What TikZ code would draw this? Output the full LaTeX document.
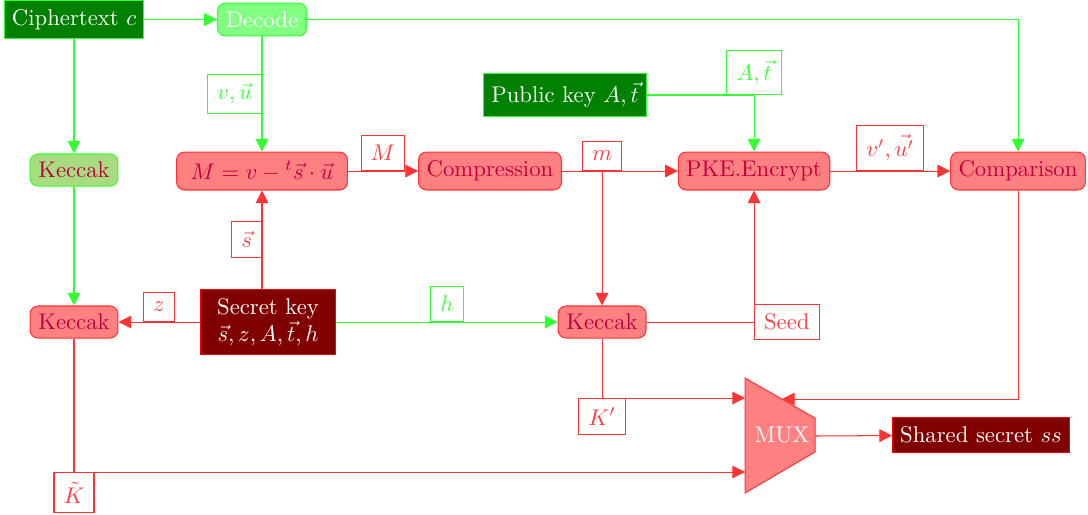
\documentclass[tikz,border=0pt]{standalone}
\usepackage{amssymb, mathtools}
\usepackage{times}
\usepackage{tikz}
\usetikzlibrary{arrows.meta}
\definecolor{keccakgreen}{RGB}{168,220,128}

\begin{document}
\begin{tikzpicture}[
    x=0.44pt,y=-0.44pt,
    blk/.style={draw=red!80,fill=red!50,text=purple,rounded corners=3.5pt,inner xsep=3.5pt,minimum height=16.7pt,line width=0.45pt},
    kec/.style={blk,minimum height=14.1pt,minimum width=38.7pt},
    gblk/.style={draw=green!80,fill=green!50!black,text=white,line width=0.45pt},
    rblk/.style={draw=red,fill=red!50!black,text=white,line width=0.45pt},
    lbl/.style={draw=red!80,fill=white,text=red!75,line width=0.45pt,inner sep=4.2pt},
    glbl/.style={draw=green!80,fill=white,text=green!75,line width=0.45pt,inner sep=4.2pt},
    rarr/.style={red!80,line width=0.45pt,-{Triangle[length=5.6pt,width=5.6pt]}},
    garr/.style={green!80,line width=0.45pt,-{Triangle[length=5.6pt,width=5.6pt]}}
    ]
    \useasboundingbox (0, 0) rectangle (1088, 514);
    \node[gblk,minimum width=59pt,minimum height=16.3pt] (cipher) at (74, 19.5) {Ciphertext $c$};
    \node[blk,draw=green!80,fill=green!50,text=white,minimum height=14.5pt,minimum width=39.2pt] (decode) at (262, 19.5) {Decode};
    \node[gblk,minimum width=71.7pt,minimum height=18.9pt] (pubkey) at (565, 95) {Public key $A,\vec{t}$};
    \node[kec,draw=green!80,fill=keccakgreen] (keccakA) at (74, 170) {Keccak};
    \node[blk,minimum width=75.2pt] (mdec) at (262, 171) {$M=v-{}^t\vec{s}\cdot\vec{u}$};
    \node[blk,minimum width=62.9pt] (comp) at (490, 171) {Compression};
    \node[blk,minimum width=62.9pt] (pke) at (754, 171) {PKE.Encrypt};
    \node[blk,minimum width=59pt] (cmp) at (1018, 171) {Comparison};
    \node[kec] (keccakB) at (74, 322) {Keccak};
    \node[rblk,align=center,minimum width=59.8pt,minimum height=29pt,inner sep=2pt] (skey) at (268, 322) {Secret key\\$\vec{s},z,A,\vec{t},h$};
    \node[kec] (keccakC) at (602, 322) {Keccak};
    \node[rblk,minimum width=77pt,minimum height=15pt] (shared) at (981, 435) {Shared secret $ss$};
    \draw[draw=red!80,fill=red!50,line width=0.45pt] (745, 378) -- (815, 418) -- (815, 452) -- (745, 493) -- cycle;
    \node[text=white] (mux) at (782, 435) {MUX};
    \coordinate (muxa) at (745, 398);
    \coordinate (muxb) at (745, 472);
    \coordinate (muxc) at (782, 399);
    \coordinate (muxout) at (815, 436);
    \coordinate (mbr) at (keccakC |- comp.east);
    \draw[garr] (cipher) -- (decode);
    \draw[garr] (decode) -| (cmp);
    \draw[garr] (decode) -- node[glbl,anchor=east] (lblvu) {$v,\vec{u}$} (mdec);
    \draw[garr] (cipher) -- (keccakA);
    \draw[garr] (keccakA) -- (keccakB);
    \draw[rarr] (mdec) -- node[lbl,anchor=south] (lblM) {$M$} (comp);
    \draw[rarr] (comp) -- (pke);
    \node[lbl,anchor=south] (lblm) at (mbr) {$m$};
    \draw[rarr] (mbr) -- (keccakC);
    \draw[garr] (pubkey) -| node[glbl,anchor=south] (lblAt) {$A,\vec{t}$} (pke);
    \draw[rarr] (pke) -- node[lbl,anchor=south] (lblvu2) {$v',\vec{u'}$} (cmp);
    \draw[rarr] (skey.north -| mdec) -- node[lbl,anchor=east] (lbls) {$\vec{s}$} (mdec);
    \draw[rarr] (skey) -- node[lbl,anchor=south] (lblz) {$z$} (keccakB);
    \draw[garr] (skey) -- node[glbl,anchor=south] (lblh) {$h$} (keccakC);
    \draw[rarr] (keccakC) -| node[lbl,anchor=west] (lblseed) {Seed} (pke);
    \draw[rarr] (keccakC) |- node[lbl,anchor=north] (lblK1) {$K'$} (muxa);
    \draw[rarr] (keccakB) |- node[lbl,anchor=north] (lblK2) {$\tilde{K}$} (muxb);
    \draw[rarr] (cmp) |- (muxc);
    \draw[rarr] (muxout) -- (shared);
  \end{tikzpicture}
\end{document}
